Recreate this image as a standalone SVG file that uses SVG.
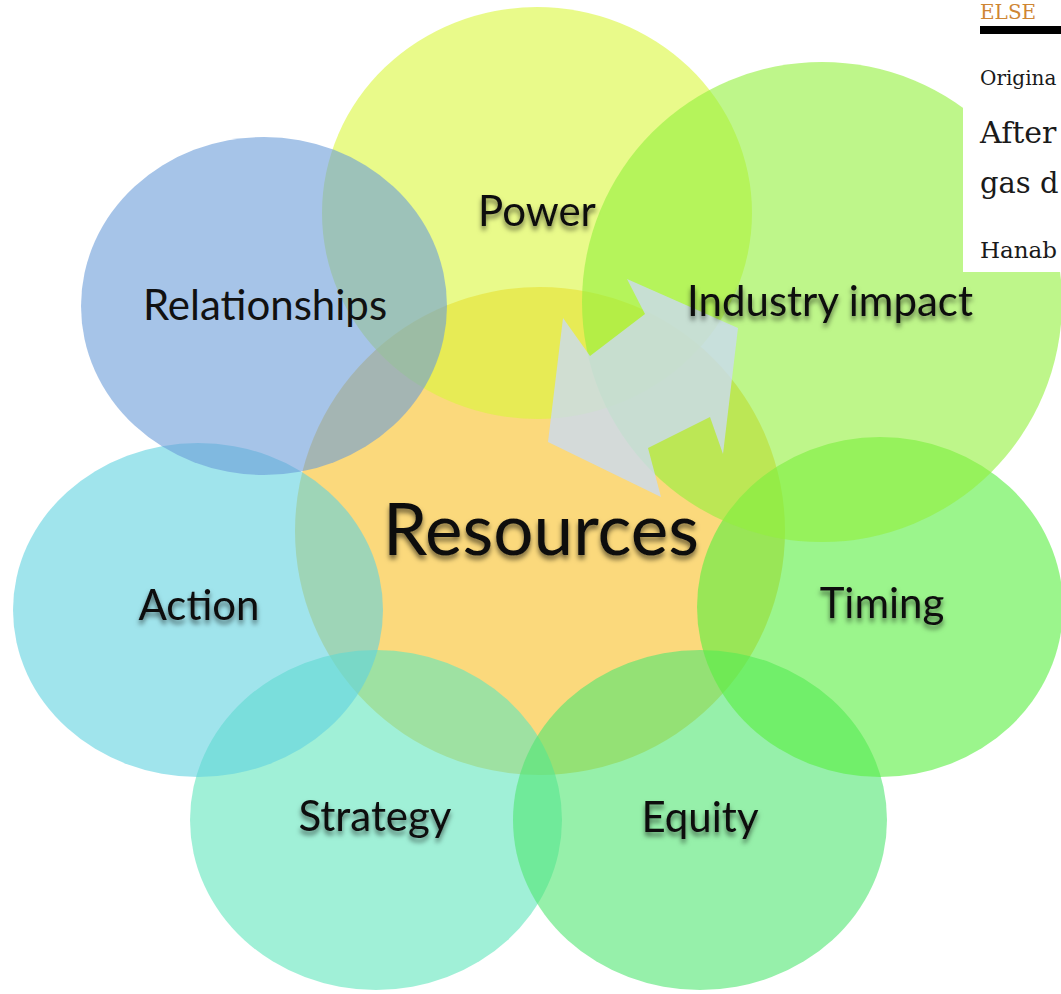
<svg xmlns="http://www.w3.org/2000/svg" width="1061" height="994" viewBox="0 0 1061 994">
  <defs>
    <filter id="shadow" x="-10%" y="-30%" width="120%" height="180%">
      <feGaussianBlur in="SourceAlpha" stdDeviation="2.5"/>
      <feOffset dx="0" dy="4" result="b"/>
      <feFlood flood-color="#000" flood-opacity="0.55"/>
      <feComposite in2="b" operator="in" result="s"/>
      <feMerge><feMergeNode in="s"/><feMergeNode in="SourceGraphic"/></feMerge>
    </filter>
    <style>
      .c { fill-opacity: 0.6; }
      .lbl { font-family: Lato, "Open Sans", sans-serif; font-size: 42px; fill: #111; text-anchor: middle; }
      .sh { filter: url(#shadow); }
      .big { font-size: 71px; }
      .paper { font-family: "DejaVu Serif", "Liberation Serif", serif; fill: #1a1a1a; }
    </style>
  </defs>
  <rect x="0" y="0" width="1061" height="994" fill="#ffffff"/>

  <g id="resources-circle"><ellipse class="c" cx="540" cy="531" rx="245" ry="244" fill="#f8c025"/></g>
  <g id="strategy-circle"><ellipse class="c" cx="376" cy="820" rx="186" ry="170" fill="#61e6bc"/></g>
  <g id="equity-circle"><ellipse class="c" cx="700" cy="820" rx="187" ry="170" fill="#50e671"/></g>
  <g id="timing-circle"><ellipse class="c" cx="880" cy="607" rx="183" ry="170" fill="#58ee3f"/></g>
  <g id="action-circle"><ellipse class="c" cx="198" cy="610" rx="185" ry="167" fill="#61d2df"/></g>
  <g id="power-circle"><ellipse class="c" cx="537" cy="213" rx="215" ry="206" fill="#daf73c"/></g>
  <g id="industry-circle"><ellipse class="c" cx="822" cy="302" rx="240" ry="240" fill="#93f03c"/></g>
  <g id="relationships-circle"><ellipse class="c" cx="264" cy="306" rx="183" ry="169" fill="#6a9dd8"/></g>

  <g id="connectors">
    <polygon points="563,318 590,356 645,314 627,279 738,328 723,454 710,417 648,448 661,497 548,442" fill="#cadbee" fill-opacity="0.82"/>
  </g>

  <g id="labels">
    <g id="power"><text class="lbl sh" x="537" y="226">Power</text></g>
    <g id="relationships"><text class="lbl" x="265" y="320">Relationships</text></g>
    <g id="industry-impact"><text class="lbl sh" x="830" y="316">Industry impact</text></g>
    <g id="resources"><text class="lbl sh big" x="541" y="555">Resources</text></g>
    <g id="action"><text class="lbl sh" x="199" y="620">Action</text></g>
    <g id="timing"><text class="lbl sh" x="882" y="618">Timing</text></g>
    <g id="strategy"><text class="lbl sh" x="375" y="831">Strategy</text></g>
    <g id="equity"><text class="lbl sh" x="700" y="832">Equity</text></g>
  </g>

  <g id="paper-overlay">
    <rect x="963" y="0" width="98" height="272" fill="#ffffff"/>
    <text x="980" y="19" font-family="DejaVu Serif, Liberation Serif, serif" font-size="20" fill="#cf8634">ELSE</text>
    <rect x="980" y="26" width="81" height="8" fill="#000"/>
    <text class="paper" x="980" y="85" font-size="20">Origina</text>
    <text class="paper" x="980" y="143" font-size="30">After</text>
    <text class="paper" x="980" y="193" font-size="29">gas d</text>
    <text class="paper" x="980" y="258" font-size="23">Hanab</text>
  </g>
</svg>
